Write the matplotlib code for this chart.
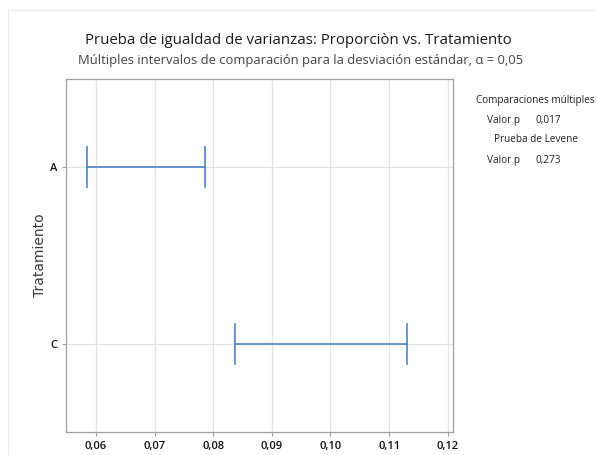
import matplotlib
matplotlib.use("Agg")
import matplotlib.pyplot as plt
from matplotlib.patches import Rectangle

# data
groups = ["A", "C"]
lower = [0.0584, 0.0837]
upper = [0.0786, 0.1130]
xticks = [0.06, 0.07, 0.08, 0.09, 0.10, 0.11, 0.12]
info_lines = [
    ("Comparaciones múltiples", ""),
    ("Valor p", "0,017"),
    ("Prueba de Levene", ""),
    ("Valor p", "0,273"),
]

plt.rcParams["font.family"] = ["Open Sans", "DejaVu Sans"]

blue = "#4a86c5"
grid = "#e4e4e4"
frame = "#a0a0a0"

fig = plt.figure(figsize=(5.97, 4.55), dpi=100)
ax = fig.add_axes([0.1106, 0.0505, 0.6482, 0.7759])

# faint outer frame of the graph region
fig.patches.append(Rectangle((0.013, -0.01), 1.0, 0.988, transform=fig.transFigure,
                             fill=False, edgecolor="#ececec", linewidth=0.8))

ypos = list(range(1, len(groups) + 1))
for y, lo, hi in zip(ypos, lower, upper):
    ax.plot([lo, hi], [y, y], color=blue, linewidth=1.2, zorder=3)
    ax.plot([lo, lo], [y - 0.113, y + 0.113], color=blue, linewidth=1.2, zorder=3)
    ax.plot([hi, hi], [y - 0.113, y + 0.113], color=blue, linewidth=1.2, zorder=3)

ax.set_xlim(0.0549, 0.1209)
ax.set_ylim(2.5, 0.5)
ax.set_xticks(xticks)
ax.set_xticklabels(["{:.2f}".format(t).replace(".", ",") for t in xticks])
ax.set_yticks(ypos)
ax.set_yticklabels(groups)
ax.grid(True, color=grid, linewidth=0.9, zorder=0)
ax.set_axisbelow(True)
for s in ax.spines.values():
    s.set_color(frame)
    s.set_linewidth(0.9)
ax.tick_params(axis="both", colors=frame, labelcolor="#111111", labelsize=8,
               length=3, width=0.8)
for lab in ax.get_xticklabels() + ax.get_yticklabels():
    lab.set_fontweight("semibold")

ax.set_ylabel("Tratamiento", family="DejaVu Sans", fontsize=10, color="#3a3a3a",
              labelpad=2)

fig.text(0.5, 0.91, "Prueba de igualdad de varianzas: Proporciòn vs. Tratamiento",
         ha="center", va="center", fontsize=10.8, color="#1a1a1a")
fig.text(0.503, 0.866,
         "Múltiples intervalos de comparación para la desviación estándar, α = 0,05",
         ha="center", va="center", fontsize=9.4, color="#444444")

ys = [101, 120, 139, 160]
for (a, b), y in zip(info_lines, ys):
    yf = 1 - y / 455
    if b:
        fig.text(0.843, yf, a, ha="center", va="center", fontsize=7.2, color="#222222")
        fig.text(0.918, yf, b, ha="center", va="center", fontsize=7.2, color="#222222")
    else:
        fig.text(0.897, yf, a, ha="center", va="center", fontsize=7.2, color="#222222")

fig.savefig("out.png", dpi=100)
